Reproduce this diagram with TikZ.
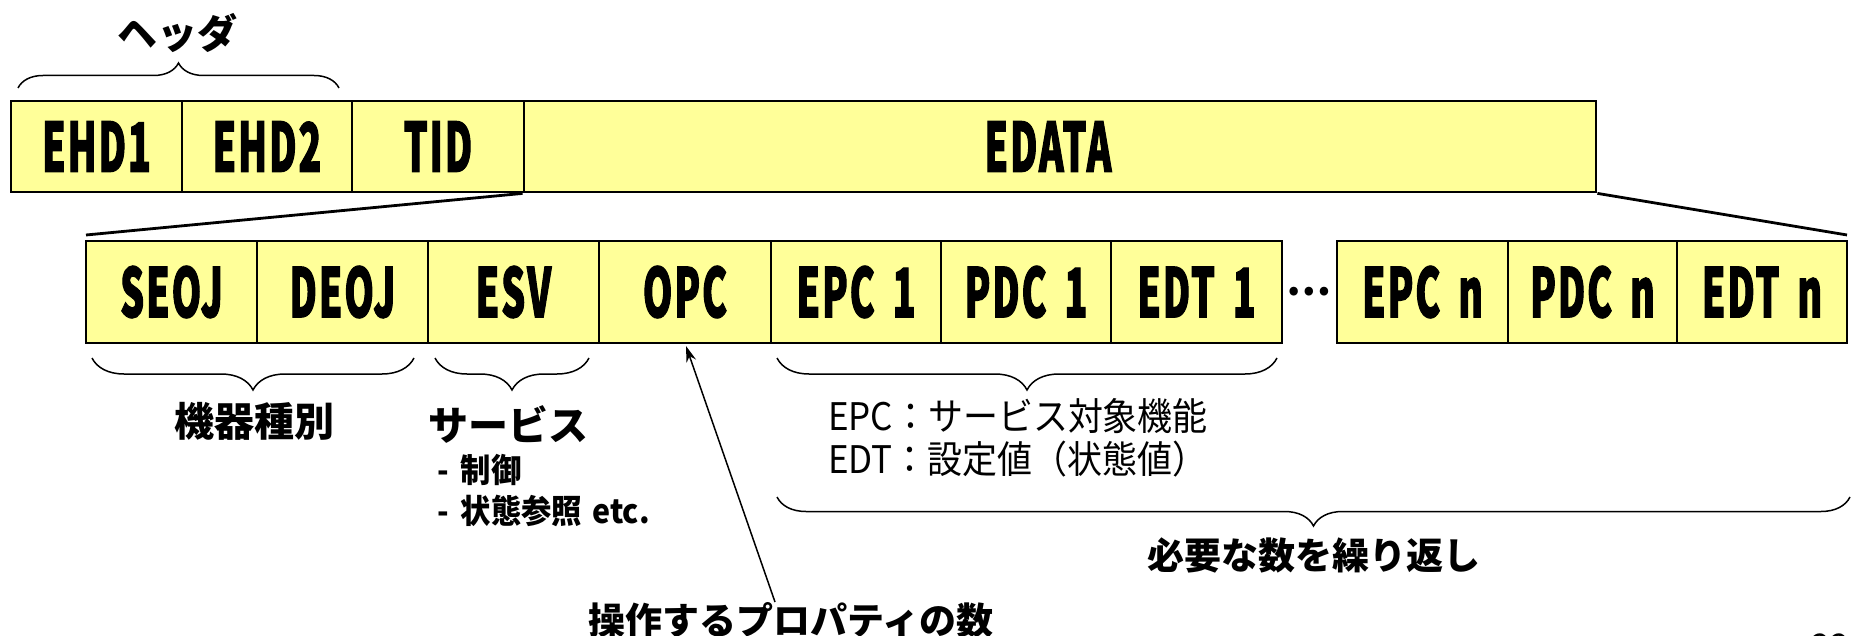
\documentclass[tikz,border=0pt]{standalone}
\usepackage{fontspec}
\usetikzlibrary{decorations.pathreplacing,arrows.meta}
\newfontfamily\jp{Noto Sans CJK JP}
\newfontfamily\jpc{Noto Sans CJK JP}[FakeStretch=0.55,LetterSpace=3,BoldFeatures={FakeBold=1.5}]
\newfontfamily\jpd{Noto Sans CJK JP}[FakeStretch=0.92]
\definecolor{boxfill}{HTML}{FFFF99}
\begin{document}
\begin{tikzpicture}[x=1pt,y=-1pt,
  box/.style={draw=black, line width=2.8pt, fill=boxfill, inner sep=0pt,
    font=\jpc\bfseries\fontsize{68}{68}\selectfont},
  toprow/.style={box, minimum height=91pt},
  botrow/.style={box, minimum height=102pt},
  lab/.style={inner sep=0pt, font=\jp\bfseries\fontsize{40}{40}\selectfont},
  labs/.style={inner sep=0pt, font=\jp\bfseries\fontsize{37}{37}\selectfont},
  sub/.style={inner sep=0pt, anchor=west, font=\jpd\bfseries\fontsize{33}{33}\selectfont},
  desc/.style={inner sep=0pt, anchor=west, font=\jpd\fontsize{38}{38}\selectfont},
  link/.style={line width=2.8pt},
  brc/.style={line width=1.5pt, decorate, decoration={brace, amplitude=#1}},
]
\useasboundingbox (0,0) rectangle (1854,636);

% top row
\node[toprow, minimum width=171pt] (ehd1) at (96.5,146.5) {EHD1};
\node[toprow, minimum width=170pt] (ehd2) at (267,146.5) {EHD2};
\node[toprow, minimum width=172pt] (tid) at (438,146.5) {TID};
\node[toprow, minimum width=1072pt] (edata) at (1060,146.5) {EDATA\kern24pt};

% bottom row
\node[botrow, minimum width=171pt] (seoj) at (171.5,292) {SEOJ};
\node[botrow, minimum width=171pt] (deoj) at (342.5,292) {DEOJ};
\node[botrow, minimum width=171pt] (esv) at (513.5,292) {ESV};
\node[botrow, minimum width=172pt] (opc) at (685,292) {OPC};
\node[botrow, minimum width=170pt] (epc1) at (856,292) {EPC\kern18pt 1};
\node[botrow, minimum width=170pt] (pdc1) at (1026,292) {PDC\kern18pt 1};
\node[botrow, minimum width=171pt] (edt1) at (1196.5,292) {EDT\kern18pt 1};
\node[botrow, minimum width=171pt] (epcn) at (1422.5,292) {EPC\kern18pt n};
\node[botrow, minimum width=169pt] (pdcn) at (1592.5,292) {PDC\kern18pt n};
\node[botrow, minimum width=170pt] (edtn) at (1762,292) {EDT\kern18pt n};
\node[inner sep=0pt, font=\jp\bfseries\fontsize{40}{40}\selectfont] (dots) at (1309,292) {…};

% expansion lines
\coordinate (l1) at (86,235);
\coordinate (r1) at (1847,235);
\draw[link] (edata.south west) -- (l1);
\draw[link] (edata.south east) -- (r1);

% braces
\draw[brc=25pt] (18,88) -- (339,88);
\draw[brc=32pt] (414,358) -- (92,358);
\draw[brc=32pt] (589,358) -- (435,358);
\draw[brc=32pt] (1277,358) -- (777,358);
\draw[brc=29pt] (1850,497) -- (777,497);

% labels
\node[lab] (hdr) at (177,33) {ヘッダ};
\node[lab] (kiki) at (254,421) {機器種別};
\node[lab, anchor=west] (svc) at (428,424) {サービス};
\node[sub] (s1) at (437,470) {-\kern12pt 制御};
\node[sub] (s2) at (437,511) {-\kern12pt 状態参照\kern10pt etc.};
\node[desc] (d1) at (828,416) {EPC：サービス対象機能};
\node[desc] (d2) at (828,459) {EDT：設定値（状態値）};
\node[labs] (rep) at (1314,555) {必要な数を繰り返し};
\node[labs] (ops) at (791,620) {操作するプロパティの数};
\node[inner sep=0pt, font=\jp\fontsize{34}{34}\selectfont] (pg) at (1830,646) {22};

% arrow
\coordinate (arrstart) at (775,602);
\coordinate (arrend) at (686,346);
\draw[line width=1.5pt, -{Stealth[length=16pt,width=10pt]}] (arrstart) -- (arrend);
\end{tikzpicture}
\end{document}
